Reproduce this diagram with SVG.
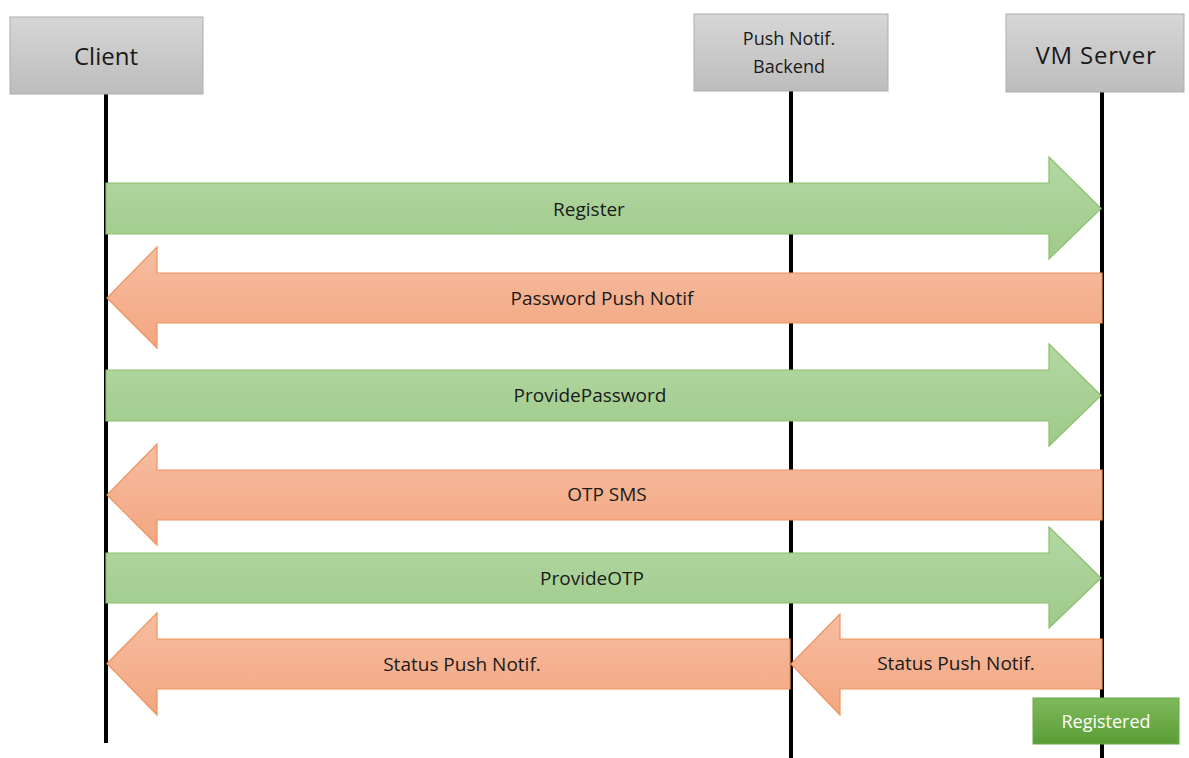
<svg xmlns="http://www.w3.org/2000/svg" width="1189" height="758" viewBox="0 0 1189 758">
<defs>
<linearGradient id="gBox" x1="0" y1="0" x2="0" y2="1"><stop offset="0" stop-color="#d6d6d6"/><stop offset="1" stop-color="#bdbdbd"/></linearGradient>
<linearGradient id="gGreen" x1="0" y1="0" x2="0" y2="1"><stop offset="0" stop-color="#b3d8a3"/><stop offset="1" stop-color="#9fca8a"/></linearGradient>
<linearGradient id="gOrange" x1="0" y1="0" x2="0" y2="1"><stop offset="0" stop-color="#f6bda1"/><stop offset="1" stop-color="#f3a680"/></linearGradient>
<linearGradient id="gReg" x1="0" y1="0" x2="0" y2="1"><stop offset="0" stop-color="#7fbb5d"/><stop offset="1" stop-color="#5a9c34"/></linearGradient>
</defs>
<style>
.box{fill:url(#gBox);stroke:#adadad;stroke-width:1}
.life{stroke:#000;stroke-width:4}
.g{fill:url(#gGreen);stroke:#8bbf6c;stroke-width:1.2}
.o{fill:url(#gOrange);stroke:#ef935c;stroke-width:1.2}
text{font-family:"Open Sans","Noto Sans",sans-serif;fill:#1a1a1a;text-anchor:middle;dominant-baseline:central}
.h{font-size:24px}
.s{font-size:18px}
.l{font-size:19px}
</style>
<rect width="1189" height="758" fill="#fff"/>
<g id="lifelines">
<line class="life" x1="106" y1="94" x2="106" y2="743"/>
<line class="life" x1="791" y1="91" x2="791" y2="758"/>
<line class="life" x1="1102" y1="92" x2="1102" y2="758"/>
</g>
<g id="client"><rect class="box" x="10" y="17" width="193" height="77"/><text class="h" x="106" y="55">Client</text></g>
<g id="push-backend"><rect class="box" x="694" y="14" width="194" height="77"/><text class="s" x="789" y="38">Push Notif.</text><text class="s" x="789" y="66">Backend</text></g>
<g id="vm-server"><rect class="box" x="1006" y="14" width="178" height="78"/><text class="h" x="1096" y="54" style="letter-spacing:0.8px">VM Server</text></g>
<g id="connectors">
<g id="register"><path class="g" d="M106 183 H1049 V157 L1101 208.5 L1049 259 V234 H106 Z"/><text class="l" x="589" y="209">Register</text></g>
<g id="password-push"><path class="o" d="M1102 273 H157 V247 L107 298 L157 348 V323 H1102 Z"/><text class="l" x="602" y="298">Password Push Notif</text></g>
<g id="provide-password"><path class="g" d="M106 370 H1049 V344 L1101 395.5 L1049 446 V421 H106 Z"/><text class="l" x="590" y="395">ProvidePassword</text></g>
<g id="otp-sms"><path class="o" d="M1102 470 H157 V444 L107 495 L157 545 V520 H1102 Z"/><text class="l" x="607" y="494">OTP SMS</text></g>
<g id="provide-otp"><path class="g" d="M106 553 H1049 V527 L1101 578 L1049 628 V603 H106 Z"/><text class="l" x="592" y="578">ProvideOTP</text></g>
<g id="status-left"><path class="o" d="M790 639 H157 V613 L107 663.5 L157 715 V689 H790 Z"/><text class="l" x="462" y="664">Status Push Notif.</text></g>
<g id="status-right"><path class="o" d="M1102 639 H840 V614 L791 664 L840 715 V689 H1102 Z"/><text class="l" x="956" y="663">Status Push Notif.</text></g>
</g>
<g id="registered"><rect x="1033" y="698" width="146" height="46" fill="url(#gReg)" stroke="#6aa84a" stroke-width="1"/><text class="s" x="1106" y="721" style="fill:#fff">Registered</text></g>
</svg>
